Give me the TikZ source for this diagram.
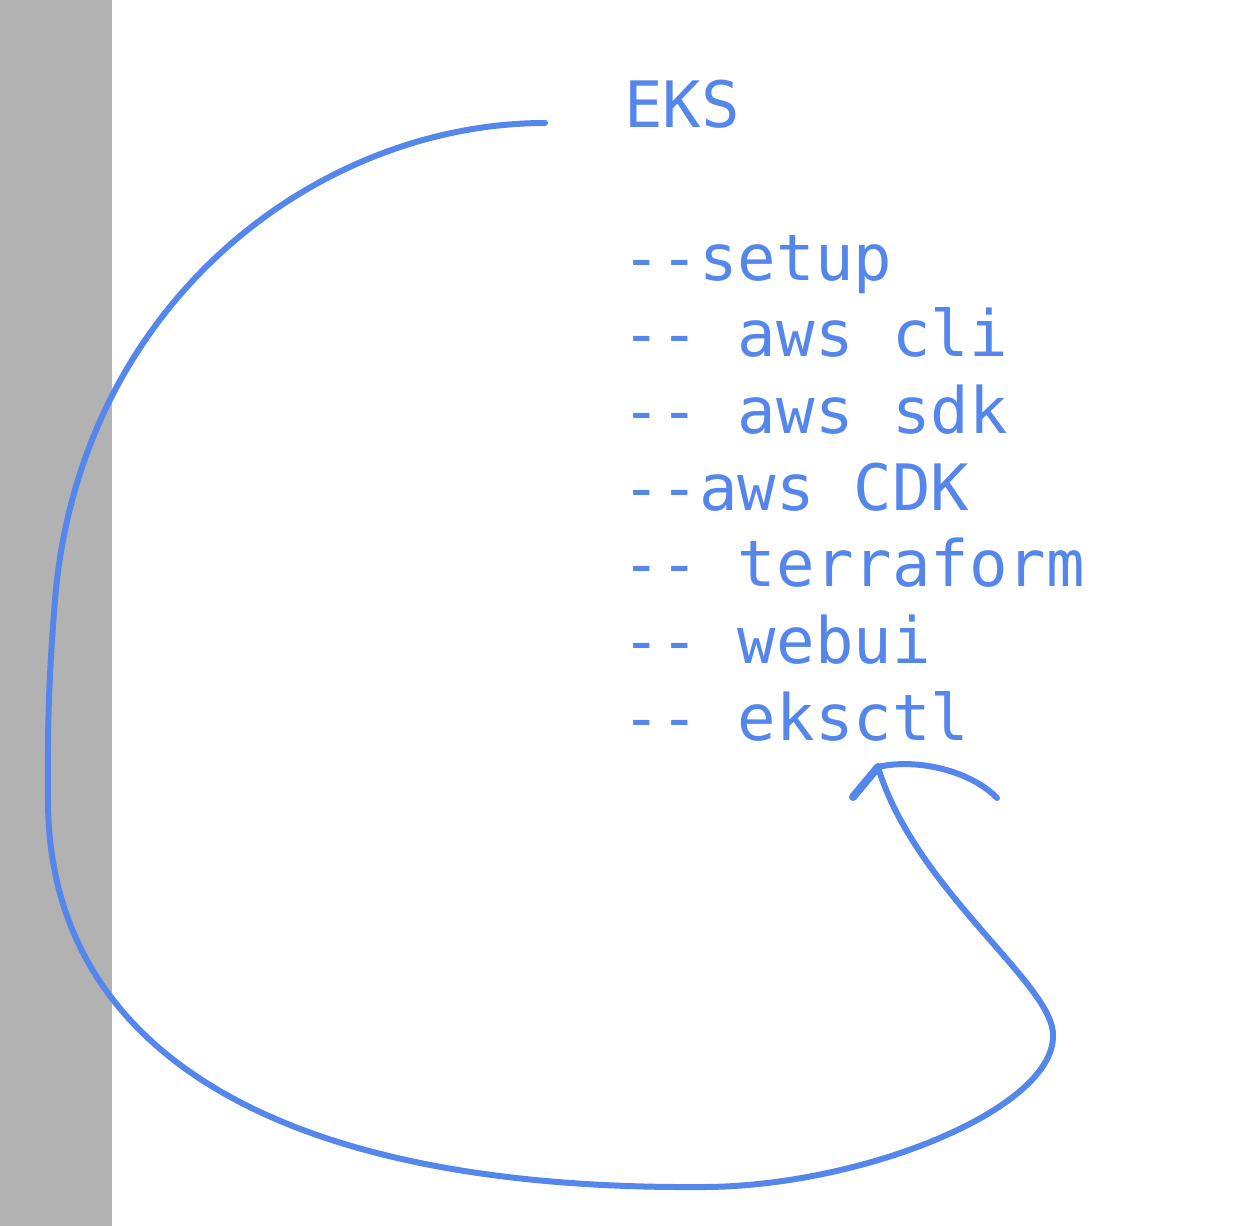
\documentclass[tikz,border=0pt]{standalone}
\usepackage{fontspec}
\setmonofont{DejaVu Sans Mono}
\usepackage{tikz}
\usetikzlibrary{positioning}
\definecolor{penblue}{HTML}{5586EB}
\definecolor{margingray}{HTML}{B2B2B2}

\begin{document}
\begin{tikzpicture}[x=0.5pt, y=-0.5pt,
        line/.style={anchor=base west, inner sep=0pt, text=penblue,
            font=\ttfamily\fontsize{32}{38}\selectfont},
        pen/.style={draw=penblue, line width=3pt, line cap=round, line join=round}]
    \useasboundingbox (0,0) rectangle (1256,1226);
    \fill [margingray] (0,0) rectangle (112,1226);
    % the list
    \node [line] (eks) at (624,127) {EKS};
    \foreach \t [count=\i] in {--setup, -- aws cli, -- aws sdk, --aws CDK,
            -- terraform, -- webui, -- eksctl}
        \node [line] (l\i) at (622,{280+76.67*(\i-1)}) {\t};
    % loop from EKS round to eksctl
    \coordinate (start) at (545,123);
    \coordinate (tip) at (878,767);
    \draw [pen] (start) .. controls (320,123) and (80,300) .. (55,600)
        .. controls (47,700) and (48,740) .. (48,800)
        .. controls (48,1040) and (260,1190) .. (702,1187)
        .. controls (860,1187) and (1053,1110) .. (1053,1036)
        .. controls (1055,985) and (915,890) .. (tip);
    % hand-drawn head
    \draw [pen, line width=4pt] (tip) -- (853,797);
    \draw [pen] (tip) .. controls (915,758) and (970,770) .. (997,798);
\end{tikzpicture}
\end{document}
